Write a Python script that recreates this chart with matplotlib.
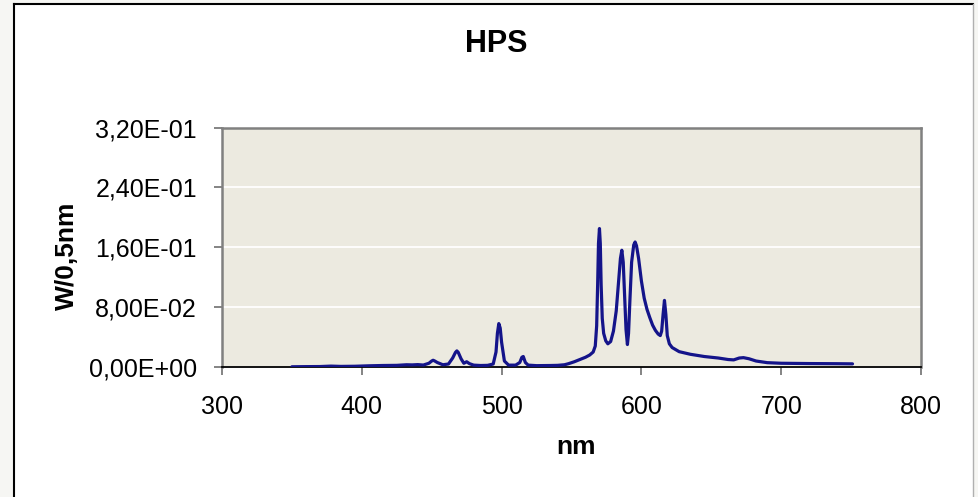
import matplotlib
matplotlib.use("Agg")
import matplotlib.pyplot as plt
from matplotlib.patches import Rectangle

# espectro HPS (nm, W/0,5nm)
nm = [350, 360, 370, 378, 385, 395, 405, 415, 425, 432, 436, 440, 444, 448, 450, 451, 452,
      454, 458, 462, 465, 467, 468, 469, 471, 473, 475, 477, 480, 485, 490, 494, 496, 497,
      498, 499, 500, 502, 505, 510, 513, 514.5, 515.5, 517, 519, 525, 535, 540, 545, 548,
      552, 556, 560, 563, 565.5, 567, 568, 568.7, 569.3, 570, 570.6, 571.2, 572, 573,
      574.5, 576, 578, 580, 582, 583.5, 585, 586, 587, 588, 589, 590, 590.8, 591.8, 593,
      594.5, 595.5, 596.5, 598, 600, 602, 604, 606, 608, 610, 612, 613.5, 614.5, 615.5,
      616.5, 617.5, 618.5, 620, 622, 627, 635, 645, 655, 662, 666, 670, 673, 677, 682,
      690, 700, 710, 720, 730, 740, 751]
potencia = [0.0003, 0.0005, 0.0006, 0.0012, 0.0008, 0.0010, 0.0016, 0.0020, 0.0022, 0.0030,
            0.0028, 0.0032, 0.0026, 0.0050, 0.0080, 0.0090, 0.0082, 0.0060, 0.0030, 0.0040,
            0.0120, 0.0195, 0.0215, 0.0195, 0.0110, 0.0050, 0.0070, 0.0045, 0.0025, 0.0020,
            0.0022, 0.0040, 0.0200, 0.0450, 0.0580, 0.0520, 0.0330, 0.0080, 0.0025, 0.0025,
            0.0060, 0.0130, 0.0140, 0.0060, 0.0025, 0.0018, 0.0020, 0.0022, 0.0030, 0.0045,
            0.0070, 0.0100, 0.0130, 0.0160, 0.0200, 0.0280, 0.0550, 0.1100, 0.1650, 0.1850,
            0.1650, 0.1100, 0.0650, 0.0450, 0.0350, 0.0310, 0.0340, 0.0480, 0.0750, 0.1100,
            0.1450, 0.1560, 0.1400, 0.0950, 0.0500, 0.0300, 0.0450, 0.0900, 0.1400, 0.1630,
            0.1670, 0.1620, 0.1450, 0.1150, 0.0920, 0.0770, 0.0660, 0.0560, 0.0490, 0.0440,
            0.0420, 0.0480, 0.0700, 0.0890, 0.0700, 0.0420, 0.0310, 0.0260, 0.0205, 0.0170,
            0.0140, 0.0120, 0.0100, 0.0095, 0.0120, 0.0125, 0.0110, 0.0080, 0.0058, 0.0050,
            0.0048, 0.0046, 0.0045, 0.0044, 0.0042]

xticks = [300, 400, 500, 600, 700, 800]
yticks = [0.0, 0.08, 0.16, 0.24, 0.32]
ytick_labels = ["0,00E+00", "8,00E-02", "1,60E-01", "2,40E-01", "3,20E-01"]

plt.rcParams["font.family"] = ["Liberation Sans", "DejaVu Sans"]

fig = plt.figure(figsize=(9.79, 4.97), dpi=100, facecolor="#f6f6f3")
fig.patches.append(Rectangle((14 / 979, 0), (973 - 14) / 979, (493 - 0) / 497,
                             transform=fig.transFigure, facecolor="white",
                             edgecolor="none", zorder=-10))
fig.lines.append(plt.Line2D([14 / 979, 14 / 979], [0, 493 / 497], transform=fig.transFigure,
                            color="black", lw=1.5, zorder=-5))
fig.lines.append(plt.Line2D([14 / 979, 973 / 979], [493 / 497, 493 / 497],
                            transform=fig.transFigure, color="black", lw=1.5, zorder=-5))
fig.lines.append(plt.Line2D([973 / 979, 973 / 979], [0, 493 / 497], transform=fig.transFigure,
                            color="#b0b0b0", lw=1.0, zorder=-5))

ax = fig.add_axes([222 / 979, 130 / 497, 699 / 979, 239.5 / 497])
ax.set_zorder(1)
ax.set_facecolor("#ECEAE0")
ax.plot(nm, potencia, color="#14148a", lw=2.3, zorder=3,
        solid_joinstyle="round", solid_capstyle="round")

ax.set_xlim(300, 800)
ax.set_ylim(0, 0.32)
ax.set_xticks(xticks)
ax.set_yticks(yticks)
ax.set_yticklabels(ytick_labels)
ax.tick_params(axis="both", labelsize=18, direction="out", length=6, width=1.2,
               color="#707070")
ax.tick_params(axis="y", pad=12)
ax.tick_params(axis="x", pad=14)
ax.grid(axis="y", color="white", lw=1.3)
ax.set_axisbelow(True)
for s in ["left", "top", "right"]:
    ax.spines[s].set_color("#808080")
    ax.spines[s].set_linewidth(1.8)
ax.spines["bottom"].set_color("black")
ax.spines["bottom"].set_linewidth(1.3)

fig.text(496 / 979, 1 - 44 / 497, "HPS", ha="center", va="center", fontsize=22,
         fontweight="bold")
fig.text(576 / 979, 1 - 447 / 497, "nm", ha="center", va="center", fontsize=19,
         fontweight="bold")
fig.text(67 / 979, 1 - 256 / 497, "W/0,5nm", ha="center", va="center", fontsize=19,
         fontweight="bold", rotation=90)

plt.savefig("out.png", dpi=100, facecolor=fig.get_facecolor())
